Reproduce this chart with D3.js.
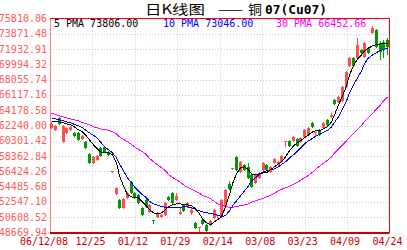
<!DOCTYPE html>
<html>
<head>
<meta charset="utf-8">
<script src="https://cdn.jsdelivr.net/npm/d3@7"></script>
<style>
  body { margin: 0; background: #fff; }
  svg { display: block; }
  text { font-family: "DejaVu Sans Mono", monospace; }
</style>
</head>
<body>
<div id="chart"></div>
<script>
// daily K-line, copper 07

var dates = ["12/08","12/11","12/12","12/13","12/14","12/15","12/18","12/19","12/20","12/21",
  "12/22","12/25","12/26","12/27","12/28","12/29","01/04","01/05","01/08","01/09",
  "01/10","01/11","01/12","01/15","01/16","01/17","01/18","01/19","01/22","01/23",
  "01/24","01/25","01/26","01/29","01/30","01/31","02/01","02/02","02/05","02/06",
  "02/07","02/08","02/09","02/12","02/13","02/14","02/15","02/16","02/26","02/27",
  "02/28","03/01","03/02","03/05","03/06","03/07","03/08","03/09","03/12","03/13",
  "03/14","03/15","03/16","03/19","03/20","03/21","03/22","03/23","03/26","03/27",
  "03/28","03/29","03/30","04/02","04/03","04/04","04/05","04/06","04/09","04/10",
  "04/11","04/12","04/13","04/16","04/17","04/18","04/19","04/20","04/23","04/24"];

var open = [61940,61680,63200,60160,61300,61680,61300,61300,60540,60160,
  58640,57500,57880,59400,59530,58900,56300,53570,52810,51800,
  53070,55100,53700,53450,51800,52810,51290,50280,50660,50660,
  50910,53190,53700,52810,51040,52180,51930,51170,49900,49270,
  50280,49650,49650,50530,50790,50660,51930,54840,56680,58260,
  56360,57250,57000,55980,54970,55600,56620,57250,56360,57500,
  57250,57630,60160,60290,60290,60540,60160,60800,61050,62570,
  61300,61680,61940,62950,63330,65480,65230,65360,67130,69790,
  70810,70810,71820,70930,72070,73970,74350,72710,72830,73090];

var high = [62700,62320,63330,62320,62060,62190,61430,61430,61050,60290,
  58770,58390,58520,59530,59660,59020,56490,54460,52940,53070,
  53830,55220,53830,53570,51930,52940,52310,50280,51290,51040,
  52560,53320,53830,53700,51930,52310,52560,51930,50030,49390,
  50410,49770,50280,51670,50910,52940,54210,55220,56870,58390,
  57760,57380,57500,56110,56110,56360,57630,57380,57120,58140,
  57760,58520,60290,60420,60920,60670,60800,61810,62060,62700,
  61430,61810,62700,63080,63840,65610,65990,67260,69160,70930,
  70930,73340,71950,72830,72200,74860,74480,72960,73090,73340];

var low = [61810,61560,62320,60040,61180,61560,60800,60290,60420,59280,
  57380,57380,57760,58260,58770,58390,56240,53450,51670,51670,
  52940,53570,52940,52310,50790,51800,51170,49770,50530,50530,
  50790,52690,52310,52690,50910,51290,51800,50910,49140,48760,
  49650,48760,49520,50410,50530,50530,51800,54080,56620,56490,
  56240,56490,55470,54330,54840,55470,56490,56490,56240,57380,
  57120,57500,59530,59530,60160,59530,60040,60670,60920,61940,
  60920,60920,61810,62190,63200,64850,65100,65230,67000,69670,
  69670,70680,71310,70810,71310,73850,72070,70550,70810,71190];

var close = [62440,62190,62440,62190,61940,62060,60920,60420,60920,59400,
  57500,58260,58390,58390,58900,58520,56430,54330,51800,52940,
  53700,53700,53070,52430,50910,51930,52180,50150,51170,50910,
  52430,52810,52430,53320,51290,51420,52430,51550,49270,49390,
  49770,48890,50150,51550,50910,52810,54080,54210,56810,56620,
  57630,56620,55600,54460,55980,56240,57500,56620,57000,58010,
  57630,58390,60290,59660,60800,59660,60670,61680,61940,62060,
  61430,61050,62570,62320,63580,64980,65860,67130,69030,70810,
  69790,72450,71440,72710,71440,74610,72200,71570,71820,72200];

var ma5 = [62820,62760,62700,62570,62440,62320,62060,61680,61430,61050,
  60420,59780,59280,58900,58770,58770,58520,57500,55860,54590,
  53450,53190,53070,53070,52560,52050,51550,51170,51040,51170,
  51550,51930,52180,52310,52310,52180,52180,52050,51670,51040,
  50410,49900,49650,50030,50280,50660,51930,53450,54840,56110,
  56870,57000,56620,56110,55980,56110,56240,56240,56620,57000,
  57380,57630,58260,59020,59660,60040,60290,60670,61050,61430,
  61560,61560,61810,62060,62700,63580,64850,65990,67260,68650,
  69790,70680,71190,71690,72070,72330,72520,72580,72580,72580];

var ma10 = [63200,63080,62950,62820,62700,62570,62380,62190,61940,61680,
  61300,60990,60610,60160,59530,59150,58770,58140,57380,56490,
  55600,54970,54460,53950,53450,53070,52620,52310,52120,51990,
  51860,51860,51860,51860,51860,51930,51930,51800,51610,51420,
  51290,51170,51100,50980,50850,50720,50790,51420,52050,52690,
  53320,53950,54590,55220,55600,56110,56360,56490,56620,56740,
  57000,57310,57630,58140,58520,59020,59400,59910,60290,60610,
  60860,61110,61370,61620,62060,62630,63330,64340,65360,66370,
  67380,68270,69160,70050,70810,71190,71500,71760,71880,72010];

var ma30 = [63770,63650,63460,63330,63200,63080,62950,62820,62630,62510,
  62320,62060,61940,61810,61750,61620,61430,61180,60800,60480,
  60160,59850,59530,59210,58900,58520,58070,57630,57250,56870,
  56490,56040,55660,55350,55030,54710,54400,54140,53890,53640,
  53380,53190,52940,52620,52310,52120,51990,51860,51860,51990,
  52050,52180,52310,52500,52690,52880,53000,53190,53380,53640,
  53950,54140,54330,54520,54780,55030,55290,55600,55920,56300,
  56680,57060,57440,57820,58260,58770,59280,59780,60290,60730,
  61240,61750,62250,62760,63270,63770,64340,64850,65360,65860];

var xTickLabels = ["06/12/08","12/25","01/12","01/29","02/14","03/08","03/23","04/09","04/24"];
var yTicks = [48669.94,50608.52,52547.10,54485.68,56424.26,58362.84,60301.42,62240.00,
  64178.58,66117.16,68055.74,69994.32,71932.91,73871.48,75810.06];

var legendNames = ["5 PMA", "10 PMA", "30 PMA"];
var legendValues = [73806.00, 73046.00, 66452.66];

var titleParts = ["日K线图", "——", "铜", "07(Cu07)"];

var width = 407, height = 250;
var margin = { top: 18.5, right: 17.5, bottom: 17.5, left: 50 };
var innerW = width - margin.left - margin.right,
  innerH = height - margin.top - margin.bottom;

var svg = d3.select('#chart').append('svg')
  .attr('width', width)
  .attr('height', height);

var x = d3.scaleBand().domain(dates).range([margin.left, margin.left + innerW]);
var xGrid = d3.scalePoint().domain(xTickLabels).range([margin.left, margin.left + innerW]);
var y = d3.scaleLinear()
  .domain([yTicks[0], yTicks[yTicks.length - 1]])
  .range([margin.top + innerH, margin.top]);

function cx(i) {
  return Math.floor(x(dates[i]) + x.bandwidth() / 2) + 0.5;
}

// grid
svg.append('g').selectAll('line')
  .data(yTicks.slice(1, -1))
  .enter().append('line')
  .attr('x1', margin.left).attr('x2', margin.left + innerW)
  .attr('y1', function(d) { return Math.round(y(d)) + 0.5; })
  .attr('y2', function(d) { return Math.round(y(d)) + 0.5; })
  .attr('stroke', '#c8c8c8')
  .attr('stroke-dasharray', '1,2');

svg.append('g').selectAll('line')
  .data(xTickLabels.slice(1, -1))
  .enter().append('line')
  .attr('x1', function(d) { return Math.round(xGrid(d)) + 0.5; })
  .attr('x2', function(d) { return Math.round(xGrid(d)) + 0.5; })
  .attr('y1', margin.top).attr('y2', margin.top + innerH)
  .attr('stroke', '#c8c8c8')
  .attr('stroke-dasharray', '1,2');

// y labels
svg.append('g').selectAll('text')
  .data(yTicks)
  .enter().append('text')
  .attr('x', 47)
  .attr('y', function(d) { return y(d); })
  .attr('dy', '0.35em')
  .attr('text-anchor', 'end')
  .style('font-size', '10px')
  .attr('fill', '#ff5a5a')
  .text(function(d) { return d.toFixed(2); });

// x labels
svg.append('g').selectAll('text')
  .data(xTickLabels)
  .enter().append('text')
  .attr('x', function(d, i) { return i === 0 ? 44 : xGrid(d) - 2; })
  .attr('y', 245)
  .attr('text-anchor', 'middle')
  .style('font-size', '10px')
  .attr('fill', '#cc0000')
  .text(function(d) { return d; });

// candles
var candles = svg.append('g').attr('shape-rendering', 'crispEdges');
var idx = d3.range(dates.length);

candles.selectAll('.wick')
  .data(idx)
  .enter().append('line')
  .attr('class', 'wick')
  .attr('x1', cx).attr('x2', cx)
  .attr('y1', function(i) { return y(high[i]); })
  .attr('y2', function(i) { return y(low[i]); })
  .attr('stroke', function(i) { return close[i] >= open[i] ? '#ff5050' : '#009a00'; });

candles.selectAll('.body')
  .data(idx)
  .enter().append('rect')
  .attr('class', 'body')
  .attr('x', function(i) { return cx(i) - 1.5; })
  .attr('width', 3)
  .attr('y', function(i) { return y(Math.max(open[i], close[i])); })
  .attr('height', function(i) {
    return Math.max(1, Math.abs(y(open[i]) - y(close[i])));
  })
  .attr('fill', function(i) { return close[i] >= open[i] ? '#ff5050' : '#009a00'; });

// moving averages
var maLine = d3.line()
  .x(function(d, i) { return cx(i); })
  .y(function(d) { return y(d); });

var maSeries = [ma30, ma10, ma5];
var maColors = ['#ff00ff', '#0000ff', '#000000'];

svg.append('g').selectAll('path')
  .data(maSeries)
  .enter().append('path')
  .attr('d', maLine)
  .attr('fill', 'none')
  .attr('stroke-width', 1)
  .attr('shape-rendering', 'crispEdges')
  .attr('stroke', function(d, i) { return maColors[i]; });

// border
svg.append('line')
  .attr('x1', margin.left + 0.5).attr('x2', margin.left + 0.5)
  .attr('y1', margin.top).attr('y2', margin.top + innerH)
  .attr('stroke', '#ff0000')
  .attr('stroke-dasharray', '1,1');
svg.append('line')
  .attr('x1', margin.left).attr('x2', margin.left + innerW)
  .attr('y1', margin.top).attr('y2', margin.top)
  .attr('stroke', '#ff0000');
svg.append('line')
  .attr('x1', margin.left + innerW).attr('x2', margin.left + innerW)
  .attr('y1', margin.top).attr('y2', margin.top + innerH)
  .attr('stroke', '#ff0000');
svg.append('line')
  .attr('x1', margin.left).attr('x2', margin.left + innerW)
  .attr('y1', margin.top + innerH + 0.5).attr('y2', margin.top + innerH + 0.5)
  .attr('stroke', '#cc0000')
  .attr('stroke-width', 2);

// legend
var legendX = [54, 163, 276];
var legendColors = ['#000000', '#0000ff', '#ff00ff'];
svg.append('g').selectAll('text')
  .data(legendNames)
  .enter().append('text')
  .attr('x', function(d, i) { return legendX[i]; })
  .attr('y', 27)
  .style('font-size', '10px')
  .attr('fill', function(d, i) { return legendColors[i]; })
  .text(function(d, i) { return d + ' ' + legendValues[i].toFixed(2); });

// title
var titleX = [145, 218, 248, 265];
var titleW = [60, 25, 14, 62];
svg.append('g').selectAll('text')
  .data(titleParts)
  .enter().append('text')
  .attr('x', function(d, i) { return titleX[i]; })
  .attr('y', 14)
  .attr('textLength', function(d, i) { return titleW[i]; })
  .attr('lengthAdjust', 'spacingAndGlyphs')
  .style('font-family', function(d, i) {
    return i === 3 ? '"DejaVu Sans Mono", monospace' : '"Noto Sans CJK SC", sans-serif';
  })
  .style('font-size', function(d, i) { return i === 3 ? '13px' : '13px'; })
  .style('font-weight', function(d, i) { return i === 3 ? 'bold' : 'normal'; })
  .attr('fill', '#000')
  .text(function(d) { return d; });
</script>
</body>
</html>
